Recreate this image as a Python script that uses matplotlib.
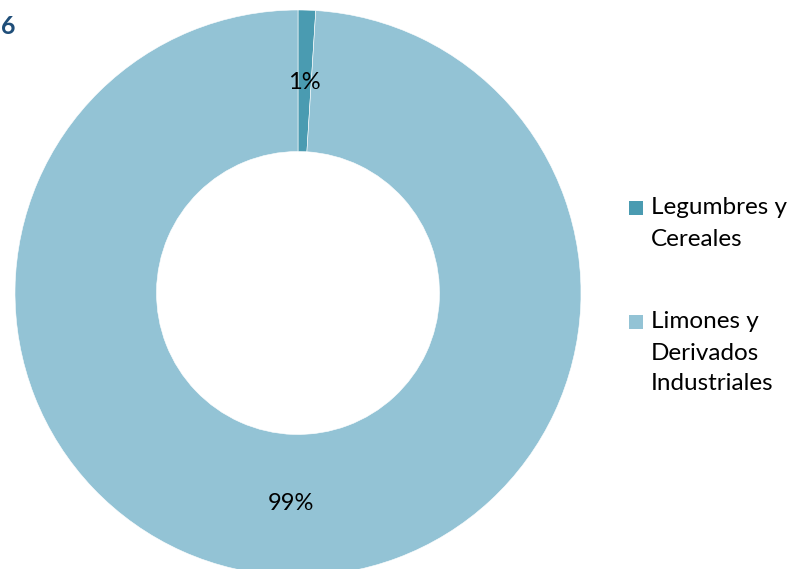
import numpy as np
import matplotlib.pyplot as plt
from matplotlib.patches import Rectangle

plt.rcParams["font.family"] = ["Lato", "DejaVu Sans"]

categories = ["Legumbres y\nCereales", "Limones y\nDerivados\nIndustriales"]
values = [1, 99]
pct_labels = ["1%", "99%"]
colors = ["#4A9BB1", "#93C3D5"]

W, H = 792, 569
fig = plt.figure(figsize=(W / 100, H / 100), dpi=100)

# donut: centre (298, 293) px, outer radius 283 px
cx, cy, r = 298, 293, 283
ax = fig.add_axes([(cx - r) / W, (H - cy - r) / H, 2 * r / W, 2 * r / H])
wedges, _ = ax.pie(values, colors=colors, startangle=90, counterclock=False,
                   radius=1.0, wedgeprops=dict(width=0.5, edgecolor="white",
                                               linewidth=0.4))
ax.set_xlim(-1, 1)
ax.set_ylim(-1, 1)
ax.set_aspect("equal")
ax.axis("off")

start = 90.0
total = sum(values)
for v, lab in zip(values, pct_labels):
    mid = np.deg2rad(start - 360 * v / total / 2)
    start -= 360 * v / total
    ax.text(0.745 * np.cos(mid), 0.745 * np.sin(mid), lab, ha="center",
            va="center", fontsize=17, color="black")

# legend, drawn by hand so the square sits on the first text line
fs = 17.5
line_px = 31
for lab, col, y0 in zip(categories, colors, [208, 322]):
    fig.add_artist(Rectangle((629 / W, 1 - (y0 + 7) / H), 14 / W, 14 / H,
                             transform=fig.transFigure, color=col, lw=0))
    for k, line in enumerate(lab.split("\n")):
        fig.text(651 / W, 1 - (y0 + k * line_px) / H, line, ha="left",
                 va="center", fontsize=fs, color="black")

fig.text(1 / W, 1 - 26 / H, "6", ha="left", va="center", fontsize=18,
         fontweight="bold", color="#1F4E79")

fig.savefig("out.png", dpi=100)
